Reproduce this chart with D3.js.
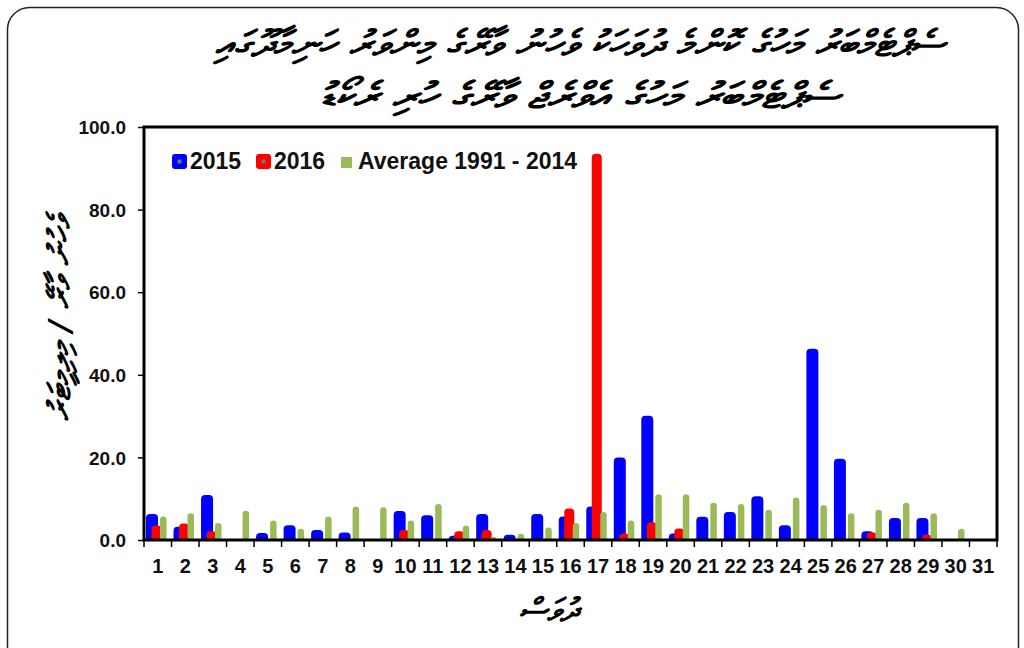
<!DOCTYPE html>
<html lang="dv">
<head>
<meta charset="UTF-8">
<title>Rainfall September</title>
<script src="https://d3js.org/d3.v7.min.js"></script>
<style>
  body { margin: 0; background: #fff; }
  svg { display: block; }
  .tick-label { font-family: "Liberation Sans", Arial, sans-serif; font-weight: bold; font-size: 19px; fill: #111; }
  .legend text { font-family: "Liberation Sans", Arial, sans-serif; font-weight: bold; font-size: 23px; fill: #111; }
  .dv { font-family: "DejaVu Sans", sans-serif; font-style: italic; font-weight: bold; fill: #000; }
</style>
</head>
<body>
<svg width="1024" height="648"></svg>
<script>
// === Data ===
const days = d3.range(1, 32);
const rain2015 = [6.3, 3.2, 10.9, 0, 1.7, 3.6, 2.4, 1.8, 0, 7.0, 6.0, 1.0, 6.3, 1.3, 6.3, 5.7, 8.1, 20.0, 30.1, 1.6, 5.6, 6.8, 10.6, 3.6, 46.3, 19.7, 2.1, 5.3, 5.3, 0, 0];
const rain2016 = [3.5, 4.0, 2.1, 0, 0, 0, 0, 0, 0, 2.4, 0, 2.1, 2.4, 0, 0, 7.6, 93.5, 1.6, 4.3, 2.8, 0, 0, 0, 0, 0, 0, 1.8, 0, 1.3, 0, 0];
const rainAvg = [5.7, 6.5, 4.1, 7.1, 4.7, 2.7, 5.7, 8.1, 7.9, 4.7, 8.7, 3.5, 0.8, 1.5, 3.0, 4.1, 6.8, 4.7, 11.1, 11.1, 9.0, 8.7, 7.3, 10.3, 8.5, 6.5, 7.3, 9.0, 6.5, 2.7, 0];
const yTicks = [0, 20, 40, 60, 80, 100];
const seriesNames = ["2015", "2016", "Average 1991 - 2014"];

const titleLines = [
  "ސެޕްޓެމްބަރު މަހުގެ ކޮންމެ ދުވަހަކު ވެހުނު ވާރޭގެ މިންވަރު ހަނިމާދޫގައި",
  "ސެޕްޓެމްބަރު މަހުގެ އެވްރެޖް ވާރޭގެ ހުރި ރެކޯޑު"
];
const yTitle = "ވެހުނު ވާރޭ / މިލިމީޓަރު";
const xTitle = "ދުވަސް";

const svg = d3.select("svg");
const plotLeft = 144, plotRight = 997, plotTop = 127, plotBottom = 540;

// outer rounded frame
svg.append("rect")
  .attr("x", 7.5).attr("y", 7.5)
  .attr("width", 1011).attr("height", 700)
  .attr("rx", 22)
  .attr("fill", "none").attr("stroke", "#222").attr("stroke-width", 1.5);

// titles
const titleWidths = [730, 520];
titleLines.forEach((t, i) => {
  svg.append("text")
    .attr("class", "dv")
    .attr("x", 580).attr("y", 56 + i * 52)
    .attr("text-anchor", "middle")
    .attr("font-size", 36)
    .attr("textLength", titleWidths[i])
    .attr("lengthAdjust", "spacingAndGlyphs")
    .text(t);
});

// === Scales ===
const x = d3.scaleBand().domain(days).range([plotLeft, plotRight]);
const y = d3.scaleLinear().domain([0, 100]).range([plotBottom, plotTop]);
const bw = x.bandwidth();

// rounded-top bar path
function barPath(x0, w, v) {
  const y0 = y(0), y1 = y(v);
  const h = y0 - y1;
  if (h <= 0) return null;
  const r = Math.min(4, w / 2, h);
  return `M${x0},${y0}V${y1 + r}Q${x0},${y1} ${x0 + r},${y1}H${x0 + w - r}Q${x0 + w},${y1} ${x0 + w},${y1 + r}V${y0}Z`;
}

const series = [
  { values: rain2015, color: "#0000FF", off: 2, w: 12 },
  { values: rain2016, color: "#FF0000", off: 7.5, w: 10 },
  { values: rainAvg, color: "#9BBB59", off: 16, w: 6.5 }
];

series.forEach(s => {
  svg.append("g")
    .selectAll("path")
    .data(days.map((d, i) => ({ day: d, v: s.values[i] })).filter(d => d.v > 0))
    .join("path")
    .attr("d", d => barPath(x(d.day) + s.off / 27.5 * bw, s.w, d.v))
    .attr("fill", s.color);
});

// === Axes ===
const yAxis = svg.append("g")
  .attr("transform", `translate(${plotLeft},0)`)
  .call(d3.axisLeft(y).tickValues(yTicks).tickFormat(d3.format(".1f")).tickSize(6).tickPadding(12));
yAxis.select(".domain").remove();
yAxis.selectAll("line").attr("stroke", "#000").attr("stroke-width", 1.5);
yAxis.selectAll("text").attr("class", "tick-label").attr("dy", "0.35em");

const xAxis = svg.append("g")
  .attr("transform", `translate(0,${plotBottom})`)
  .call(d3.axisBottom(x).tickSize(0).tickPadding(26));
xAxis.select(".domain").remove();
xAxis.selectAll("text").attr("class", "tick-label").attr("dy", "0.35em").style("font-size", "20px");

// x tick marks at band boundaries
svg.append("g")
  .selectAll("line")
  .data(days.concat([32]))
  .join("line")
  .attr("x1", d => d <= 31 ? x(d) : plotRight)
  .attr("x2", d => d <= 31 ? x(d) : plotRight)
  .attr("y1", plotBottom).attr("y2", plotBottom + 7)
  .attr("stroke", "#000").attr("stroke-width", 1.5);

// plot frame
svg.append("rect")
  .attr("x", plotLeft).attr("y", plotTop)
  .attr("width", plotRight - plotLeft).attr("height", plotBottom - plotTop)
  .attr("fill", "none").attr("stroke", "#000").attr("stroke-width", 3);

// axis titles
svg.append("text")
  .attr("class", "dv")
  .attr("transform", "translate(70,318) rotate(-90)")
  .attr("text-anchor", "middle")
  .attr("font-size", 31)
  .attr("textLength", 205)
  .attr("lengthAdjust", "spacingAndGlyphs")
  .text(yTitle);

svg.append("text")
  .attr("class", "dv")
  .attr("x", 548).attr("y", 621)
  .attr("text-anchor", "middle")
  .attr("font-size", 32)
  .text(xTitle);

// === Legend ===
const legend = svg.append("g").attr("class", "legend");
const legendX = [172, 256, 341];
seriesNames.forEach((name, i) => {
  const g = legend.append("g").attr("transform", `translate(${legendX[i]},0)`);
  if (i < 2) {
    g.append("rect").attr("x", 0).attr("y", 154).attr("width", 15).attr("height", 15).attr("rx", 3)
      .attr("fill", series[i].color);
    g.append("rect").attr("x", 5.5).attr("y", 159.5).attr("width", 4).attr("height", 4)
      .attr("fill", "#777");
  } else {
    g.append("rect").attr("x", 0).attr("y", 157).attr("width", 11).attr("height", 11)
      .attr("fill", series[i].color);
  }
  g.append("text").attr("x", i < 2 ? 18 : 17).attr("y", 169).text(name);
});
</script>
</body>
</html>
